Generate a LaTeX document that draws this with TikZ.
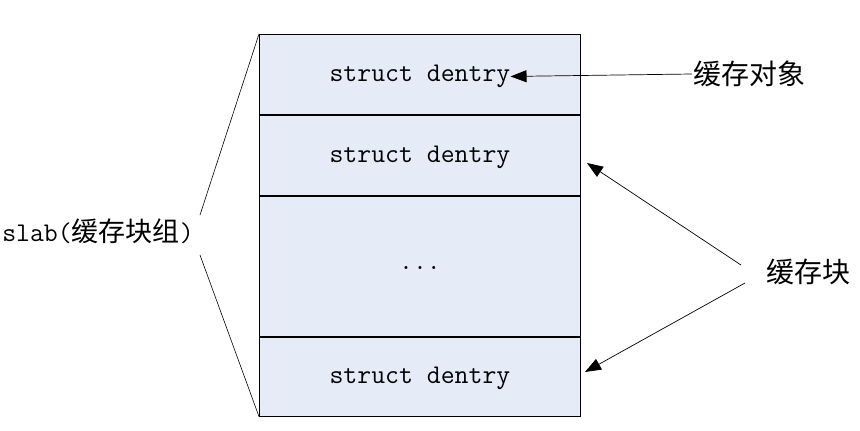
\documentclass[tikz,border=0pt]{standalone}
\usepackage{fontspec}
\newfontfamily\cjk{Noto Sans CJK SC}
\usetikzlibrary{arrows.meta,calc}
\definecolor{cellblue}{RGB}{230,236,247}
\begin{document}
\begin{tikzpicture}[x=1pt,y=-1pt,
 cell/.style={draw=black, fill=cellblue, line width=0.9pt, minimum width=321pt, inner sep=0pt, anchor=north west},
 txt/.style={font=\fontsize{27}{32}\selectfont\ttfamily, inner sep=0pt},
 cn/.style={font=\fontsize{28}{33}\selectfont\cjk, inner sep=1pt},
 thin/.style={line width=0.6pt},
 arr/.style={-{Triangle[length=16pt,width=12pt]}, line width=0.7pt}]
\useasboundingbox (0,0) rectangle (860,431);
\node[cell, minimum height=80pt] (c1) at (259,34) {};
\node[cell, minimum height=80pt] (c2) at (c1.south west) {};
\node[cell, minimum height=140pt] (c3) at (c2.south west) {};
\node[cell, minimum height=79pt] (c4) at (c3.south west) {};
\node[txt] (t1) at ($(c1.center)+(0,2)$) {struct dentry};
\node[txt] (t2) at ($(c2.center)+(0,2)$) {struct dentry};
\node[txt] (t3) at ($(c3.center)+(0,2)$) {...};
\node[txt] (t4) at ($(c4.center)+(0,2)$) {struct dentry};
\node[inner sep=0pt] (slab) at (98,231) {\fontsize{27}{32}\selectfont\ttfamily slab(\fontsize{27}{32}\selectfont\cjk 缓存块组\fontsize{27}{32}\selectfont\ttfamily)};
\coordinate (b1) at (200,215);
\coordinate (b2) at (200,255);
\draw[thin] (c1.north west) -- (b1);
\draw[thin] (b2) -- (c4.south west);
\node[cn] (obj) at (749,74) {缓存对象};
\draw[arr] (obj.west) -- (t1.east);
\node[cn] (blk) at (808,272) {缓存块};
\coordinate (u1) at (741,265);
\coordinate (u2) at (745,283);
\coordinate (a2) at (587,163);
\coordinate (a4) at (585,372);
\draw[arr] (u1) -- (a2);
\draw[arr] (u2) -- (a4);
\end{tikzpicture}
\end{document}
